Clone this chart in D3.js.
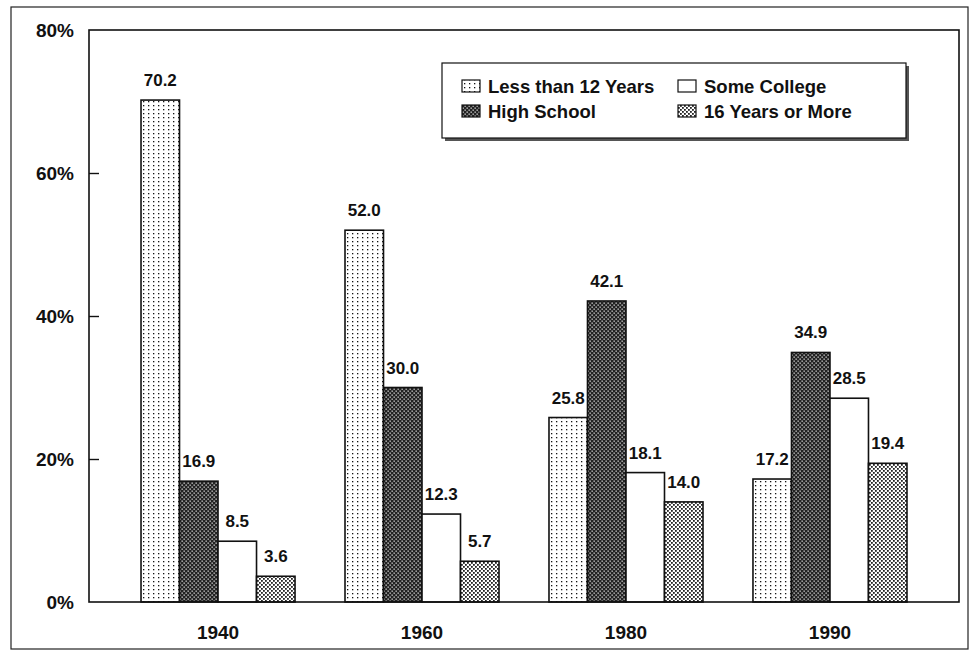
<!DOCTYPE html>
<html>
<head>
<meta charset="utf-8">
<script src="https://cdn.jsdelivr.net/npm/d3@7"></script>
<style>
  body { margin: 0; background: #fff; }
  text { font-family: "Liberation Sans", Arial, sans-serif; font-weight: bold; fill: #111; }
</style>
</head>
<body>
<div id="chart"></div>
<script>
// data
var years = ["1940", "1960", "1980", "1990"];
var series = ["Less than 12 Years", "High School", "Some College", "16 Years or More"];
var lessThan12 = [70.2, 52.0, 25.8, 17.2];
var highSchool = [16.9, 30.0, 42.1, 34.9];
var someCollege = [8.5, 12.3, 18.1, 28.5];
var sixteenPlus = [3.6, 5.7, 14.0, 19.4];
var yTicks = [0, 20, 40, 60, 80];

var values = [lessThan12, highSchool, someCollege, sixteenPlus];
var fills = ["url(#dots)", "url(#dark)", "#fff", "url(#light)"];

var W = 974, H = 651;
var plot = {left: 89, right: 959, top: 30, bottom: 602};

var svg = d3.select("#chart").append("svg")
    .attr("width", W).attr("height", H);

// fill patterns
var defs = svg.append("defs");
var p1 = defs.append("pattern").attr("id", "dots")
    .attr("patternUnits", "userSpaceOnUse").attr("width", 5).attr("height", 4);
p1.append("rect").attr("width", 5).attr("height", 4).attr("fill", "#fff");
p1.append("rect").attr("x", 2).attr("y", 1).attr("width", 1.3).attr("height", 1.3).attr("fill", "#111");

var p2 = defs.append("pattern").attr("id", "dark")
    .attr("patternUnits", "userSpaceOnUse").attr("width", 4).attr("height", 4);
p2.append("rect").attr("width", 4).attr("height", 4).attr("fill", "#222");
p2.append("rect").attr("x", 0.5).attr("y", 0.5).attr("width", 1.3).attr("height", 1.3).attr("fill", "#ddd");
p2.append("rect").attr("x", 2.5).attr("y", 2.5).attr("width", 1.3).attr("height", 1.3).attr("fill", "#ddd");

var p3 = defs.append("pattern").attr("id", "light")
    .attr("patternUnits", "userSpaceOnUse").attr("width", 4).attr("height", 4);
p3.append("rect").attr("width", 4).attr("height", 4).attr("fill", "#fff");
p3.append("rect").attr("x", 0).attr("y", 0).attr("width", 1.8).attr("height", 1.8).attr("fill", "#222");
p3.append("rect").attr("x", 2).attr("y", 2).attr("width", 1.8).attr("height", 1.8).attr("fill", "#222");

// outer frame
svg.append("rect")
    .attr("x", 11).attr("y", 7).attr("width", 957).attr("height", 642)
    .attr("fill", "none").attr("stroke", "#222").attr("stroke-width", 1.2);

var x0 = d3.scaleBand().domain(years)
    .range([plot.left, plot.right])
    .paddingInner(0.245).paddingOuter(0.255);
var x1 = d3.scaleBand().domain(d3.range(series.length))
    .range([0, x0.bandwidth()]);
var y = d3.scaleLinear().domain([0, 80]).range([plot.bottom, plot.top]);

// bars
var groups = svg.selectAll("g.year")
    .data(years)
    .enter().append("g")
    .attr("class", "year")
    .attr("transform", function(d) { return "translate(" + x0(d) + ",0)"; });

groups.selectAll("rect")
    .data(function(d, i) {
        return values.map(function(v, s) { return {s: s, v: v[i]}; });
    })
    .enter().append("rect")
    .attr("x", function(d) { return x1(d.s); })
    .attr("width", x1.bandwidth())
    .attr("y", function(d) { return y(d.v); })
    .attr("height", function(d) { return y(0) - y(d.v); })
    .attr("fill", function(d) { return fills[d.s]; })
    .attr("stroke", "#111").attr("stroke-width", 1.6);

groups.selectAll("text")
    .data(function(d, i) {
        return values.map(function(v, s) { return {s: s, v: v[i]}; });
    })
    .enter().append("text")
    .attr("x", function(d) { return x1(d.s) + x1.bandwidth() / 2; })
    .attr("y", function(d) { return y(d.v) - 14; })
    .attr("text-anchor", "middle")
    .style("font-size", "17px")
    .text(function(d) { return d.v.toFixed(1); });

// plot frame
svg.append("rect")
    .attr("x", plot.left).attr("y", plot.top)
    .attr("width", plot.right - plot.left).attr("height", plot.bottom - plot.top)
    .attr("fill", "none").attr("stroke", "#111").attr("stroke-width", 1.6);

// y axis
var yAxis = d3.axisLeft(y).tickValues(yTicks)
    .tickSize(-10).tickPadding(15)
    .tickFormat(function(d) { return d + "%"; });
var ya = svg.append("g").attr("transform", "translate(" + plot.left + ",0)").call(yAxis);
ya.select(".domain").remove();
ya.selectAll(".tick line")
    .attr("stroke", "#111").attr("stroke-width", 1.4)
    .attr("display", function(d) { return (d === 0 || d === 80) ? "none" : null; });
ya.selectAll("text").style("font-size", "19px").attr("fill", "#111")
    .style("font-family", "Liberation Sans, Arial, sans-serif");

// x axis labels
var xAxis = d3.axisBottom(x0).tickSize(0).tickPadding(24);
var xa = svg.append("g").attr("transform", "translate(0," + plot.bottom + ")").call(xAxis);
xa.select(".domain").remove();
xa.selectAll("text").style("font-size", "19px").attr("fill", "#111")
    .style("font-family", "Liberation Sans, Arial, sans-serif");

// legend
var lg = svg.append("g").attr("transform", "translate(442,63)");
lg.append("rect").attr("x", 3).attr("y", 3).attr("width", 464).attr("height", 75)
    .attr("fill", "#555");
lg.append("rect").attr("width", 464).attr("height", 75)
    .attr("fill", "#fff").attr("stroke", "#111").attr("stroke-width", 1.2);

var legendPos = [[20, 23], [20, 48], [236, 23], [236, 48]];
var item = lg.selectAll("g.item")
    .data(series)
    .enter().append("g")
    .attr("class", "item")
    .attr("transform", function(d, i) {
        return "translate(" + legendPos[i][0] + "," + legendPos[i][1] + ")";
    });
item.append("rect")
    .attr("x", 0).attr("y", -6).attr("width", 18).attr("height", 12)
    .attr("fill", function(d, i) { return fills[i]; })
    .attr("stroke", "#111").attr("stroke-width", 1.2);
item.append("text")
    .attr("x", 26).attr("y", 0).attr("dy", "0.36em")
    .style("font-size", "18.5px")
    .text(function(d) { return d; });
</script>
</body>
</html>
